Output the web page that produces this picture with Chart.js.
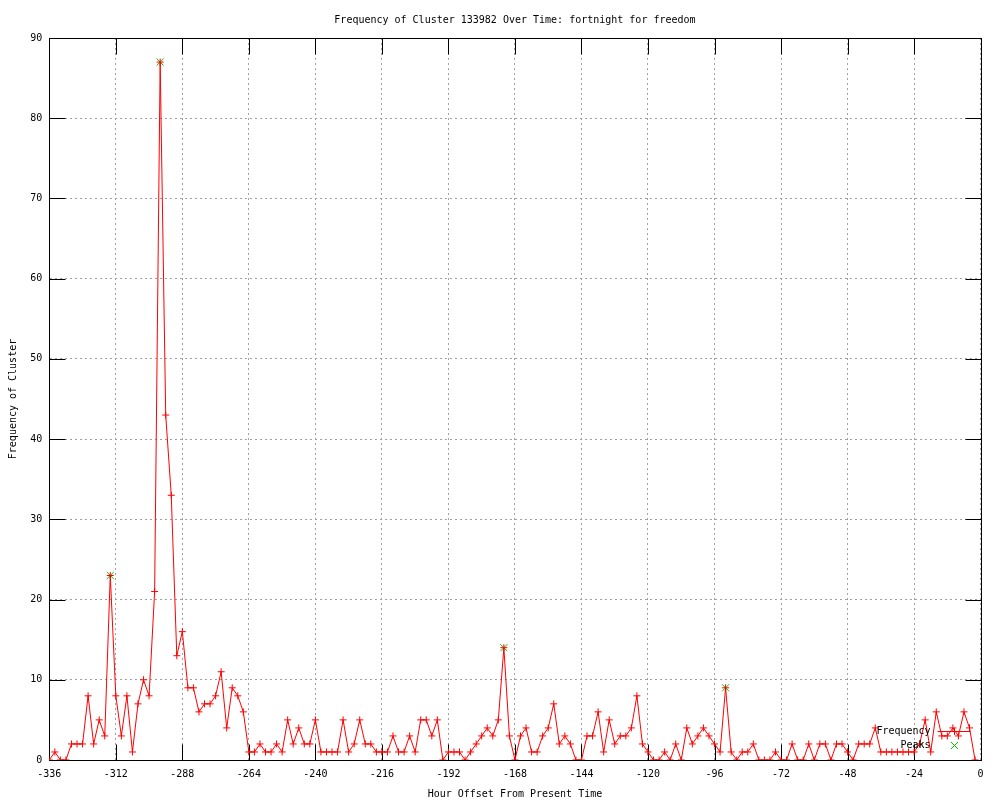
<!DOCTYPE html>
<html>
<head>
<meta charset="utf-8">
<script src="https://cdn.jsdelivr.net/npm/chart.js@4/dist/chart.umd.min.js"></script>
<style>
  html, body { margin: 0; padding: 0; background: #fff; }
  canvas { display: block; }
</style>
</head>
<body>
<canvas id="chart" width="1000" height="800"></canvas>
<script>
// Hour offsets, 2-hour bins from -336 to -2
const hours = [
  -336, -334, -332, -330, -328, -326, -324, -322, -320, -318, -316, -314,
  -312, -310, -308, -306, -304, -302, -300, -298, -296, -294, -292, -290,
  -288, -286, -284, -282, -280, -278, -276, -274, -272, -270, -268, -266,
  -264, -262, -260, -258, -256, -254, -252, -250, -248, -246, -244, -242,
  -240, -238, -236, -234, -232, -230, -228, -226, -224, -222, -220, -218,
  -216, -214, -212, -210, -208, -206, -204, -202, -200, -198, -196, -194,
  -192, -190, -188, -186, -184, -182, -180, -178, -176, -174, -172, -170,
  -168, -166, -164, -162, -160, -158, -156, -154, -152, -150, -148, -146,
  -144, -142, -140, -138, -136, -134, -132, -130, -128, -126, -124, -122,
  -120, -118, -116, -114, -112, -110, -108, -106, -104, -102, -100, -98,
  -96, -94, -92, -90, -88, -86, -84, -82, -80, -78, -76, -74,
  -72, -70, -68, -66, -64, -62, -60, -58, -56, -54, -52, -50,
  -48, -46, -44, -42, -40, -38, -36, -34, -32, -30, -28, -26,
  -24, -22, -20, -18, -16, -14, -12, -10, -8, -6, -4, -2
];

const frequency = [
  0, 1, 0, 0, 2, 2, 2, 8, 2, 5, 3, 23,
  8, 3, 8, 1, 7, 10, 8, 21, 87, 43, 33, 13,
  16, 9, 9, 6, 7, 7, 8, 11, 4, 9, 8, 6,
  1, 1, 2, 1, 1, 2, 1, 5, 2, 4, 2, 2,
  5, 1, 1, 1, 1, 5, 1, 2, 5, 2, 2, 1,
  1, 1, 3, 1, 1, 3, 1, 5, 5, 3, 5, 0,
  1, 1, 1, 0, 1, 2, 3, 4, 3, 5, 14, 3,
  0, 3, 4, 1, 1, 3, 4, 7, 2, 3, 2, 0,
  0, 3, 3, 6, 1, 5, 2, 3, 3, 4, 8, 2,
  1, 0, 0, 1, 0, 2, 0, 4, 2, 3, 4, 3,
  2, 1, 9, 1, 0, 1, 1, 2, 0, 0, 0, 1,
  0, 0, 2, 0, 0, 2, 0, 2, 2, 0, 2, 2,
  1, 0, 2, 2, 2, 4, 1, 1, 1, 1, 1, 1,
  1, 2, 5, 1, 6, 3, 3, 4, 3, 6, 4, 0
];

const peakHours = [-314, -296, -172, -92];
const peakValues = [23, 87, 14, 9];

const xTicks = [-336, -312, -288, -264, -240, -216, -192, -168, -144, -120, -96, -72, -48, -24, 0];
const yTicks = [0, 10, 20, 30, 40, 50, 60, 70, 80, 90];

const TITLE = 'Frequency of Cluster 133982 Over Time: fortnight for freedom';
const X_LABEL = 'Hour Offset From Present Time';
const Y_LABEL = 'Frequency of Cluster';

const RED = '#ff0000';
const GREEN = '#00c000';
const TIC = 16;

Chart.defaults.font.family = '"DejaVu Sans Mono", "Liberation Mono", monospace';
Chart.defaults.font.size = 10;
Chart.defaults.color = '#000';

const crisp = v => Math.round(v) + 0.5;

// gnuplot style frame: full border plus inward tics on all four sides
const frame = {
  id: 'frame',
  beforeDatasetsDraw(chart) {
    const { ctx, chartArea: a, scales } = chart;
    const l = crisp(a.left), r = crisp(a.right), t = crisp(a.top), b = crisp(a.bottom);
    ctx.save();
    ctx.strokeStyle = '#000';
    ctx.lineWidth = 1;
    ctx.beginPath();
    xTicks.forEach(v => {
      const px = crisp(scales.x.getPixelForValue(v));
      ctx.moveTo(px, b); ctx.lineTo(px, b - TIC);
      ctx.moveTo(px, t); ctx.lineTo(px, t + TIC);
    });
    yTicks.forEach(v => {
      const py = crisp(scales.y.getPixelForValue(v));
      ctx.moveTo(l, py); ctx.lineTo(l + TIC, py);
      ctx.moveTo(r, py); ctx.lineTo(r - TIC, py);
    });
    ctx.stroke();
    ctx.strokeRect(l, t, r - l, b - t);
    ctx.restore();
  }
};

// key in the lower right corner, text right-aligned with the sample after it
const key = {
  id: 'key',
  afterDatasetsDraw(chart) {
    const { ctx, chartArea: a } = chart;
    const textRight = a.right - 50;
    const sx0 = a.right - 43, sx1 = a.right - 10, sc = Math.round(a.right - 27) + 0.5;
    const rows = [
      { label: 'Frequency', y: a.bottom - 28.5, line: true, color: RED, style: 'cross', r: 3.5 },
      { label: 'Peaks', y: a.bottom - 14.5, line: false, color: GREEN, style: 'crossRot', r: 5 }
    ];
    ctx.save();
    ctx.font = '10px "DejaVu Sans Mono", monospace';
    ctx.textAlign = 'right';
    ctx.textBaseline = 'middle';
    rows.forEach(row => {
      ctx.fillStyle = '#000';
      ctx.fillText(row.label, textRight, row.y);
      ctx.strokeStyle = row.color;
      ctx.lineWidth = 1;
      if (row.line) {
        ctx.beginPath();
        ctx.moveTo(sx0, row.y); ctx.lineTo(sx1, row.y);
        ctx.stroke();
      }
      Chart.helpers.drawPoint(ctx, { pointStyle: row.style, radius: row.r, borderWidth: 1 }, sc, row.y);
    });
    ctx.restore();
  }
};

new Chart(document.getElementById('chart'), {
  type: 'line',
  data: {
    datasets: [
      {
        label: 'Frequency',
        data: hours.map((h, i) => ({ x: h, y: frequency[i] })),
        borderColor: RED,
        backgroundColor: RED,
        borderWidth: 1,
        pointStyle: 'cross',
        pointRadius: 3.5,
        pointBorderWidth: 1,
        pointBorderColor: RED,
        tension: 0,
        fill: false
      },
      {
        label: 'Peaks',
        data: peakHours.map((h, i) => ({ x: h, y: peakValues[i] })),
        showLine: false,
        borderColor: GREEN,
        backgroundColor: GREEN,
        pointStyle: 'crossRot',
        pointRadius: 5,
        pointBorderWidth: 1,
        pointBorderColor: GREEN
      }
    ]
  },
  options: {
    responsive: false,
    animation: false,
    devicePixelRatio: 1,
    layout: { padding: { left: 0, right: 19.4, top: 0, bottom: 0 } },
    plugins: {
      legend: { display: false },
      tooltip: { enabled: false },
      title: {
        display: true,
        text: TITLE,
        fullSize: false,
        font: { size: 10, weight: 'normal' },
        padding: { top: 14, bottom: 12 }
      }
    },
    scales: {
      x: {
        type: 'linear',
        min: -336,
        max: 0,
        afterFit: s => { s.height = 40; },
        afterBuildTicks: s => { s.ticks = xTicks.map(v => ({ value: v })); },
        ticks: { padding: 8, maxRotation: 0, autoSkip: false },
        grid: { color: '#a0a0a0', drawTicks: false },
        border: { display: true, color: '#000', dash: [2, 3] },
        title: { display: true, text: X_LABEL, padding: { top: 0, bottom: 0 } }
      },
      y: {
        min: 0,
        max: 90,
        afterFit: s => { s.width = 49.3; },
        afterBuildTicks: s => { s.ticks = yTicks.map(v => ({ value: v })); },
        ticks: { padding: 7 },
        grid: { color: '#a0a0a0', drawTicks: false },
        border: { display: true, color: '#000', dash: [2, 3] },
        title: { display: true, text: Y_LABEL, padding: { top: 7.5, bottom: 0 } }
      }
    }
  },
  plugins: [frame, key]
});
</script>
</body>
</html>
